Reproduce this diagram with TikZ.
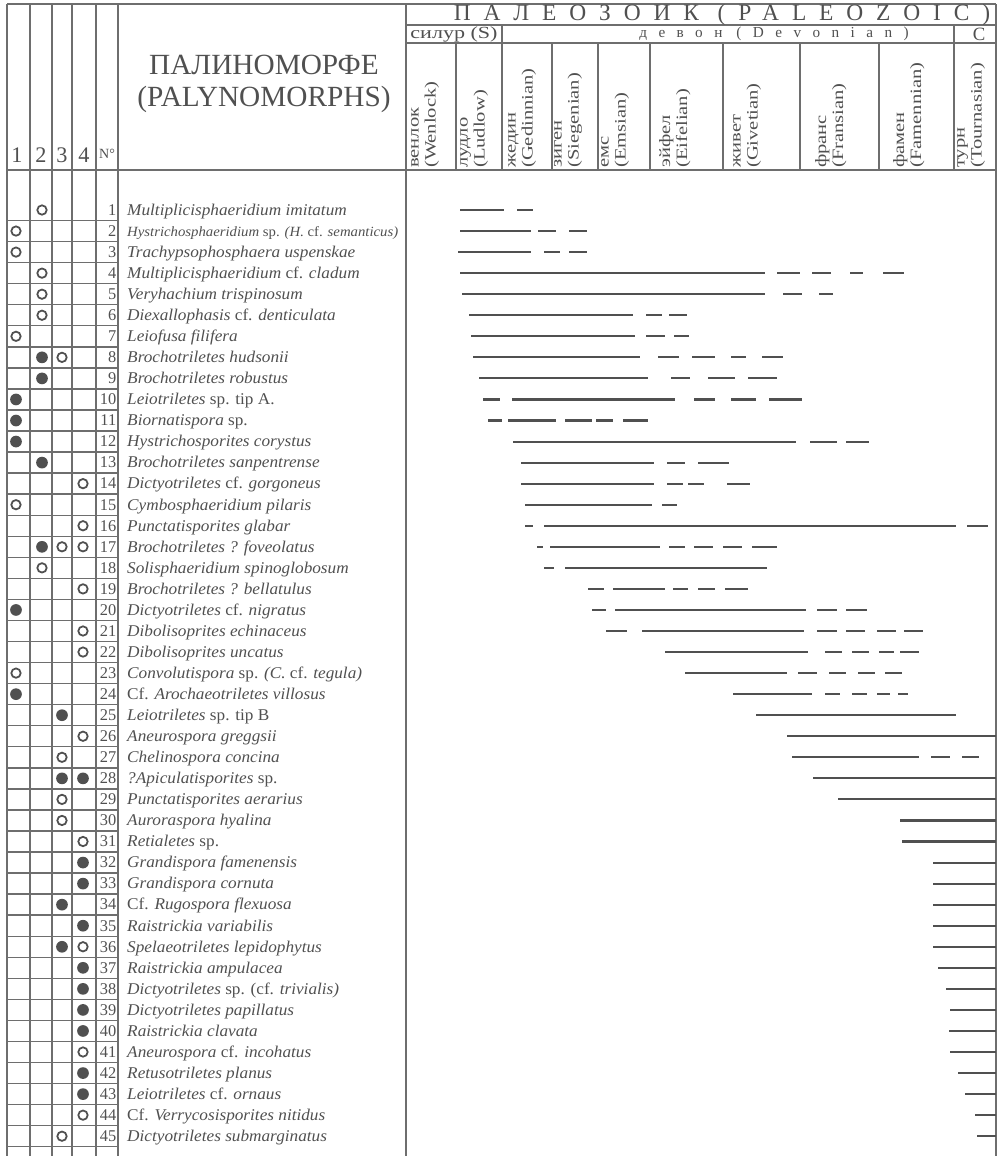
\documentclass[tikz,border=0pt]{standalone}
\usepackage{fontspec}
\setmainfont{Liberation Serif}
\newfontfamily\taxonfont[FakeStretch=1.05]{Liberation Serif}
\newfontfamily\stagefont[FakeStretch=1.3]{Liberation Serif}
\newfontfamily\widefont[FakeStretch=1.3]{Liberation Serif}
\newfontfamily\eraspaced[LetterSpace=55]{Liberation Serif}
\newfontfamily\devonspaced[LetterSpace=75]{Liberation Serif}
\definecolor{inkgray}{RGB}{80,80,80}
\definecolor{rulegray}{RGB}{110,110,110}
\usetikzlibrary{positioning}
\newcommand{\rmsp}[1]{\textup{#1}}

\begin{document}
\begin{tikzpicture}[x=0.3mm, y=-0.3mm,
    rule/.style={rulegray, line width=1.2pt},
    rangebar/.style={inkgray, line width=1.8pt},
    openmark/.style={circle, draw=inkgray, line width=1.5pt, inner sep=0pt, minimum size=8pt},
    fullmark/.style={circle, fill=inkgray, inner sep=0pt, minimum size=10pt},
    num/.style={anchor=base east, inner sep=0pt, text=inkgray, font=\fontsize{14}{16}\selectfont},
    taxon/.style={anchor=base west, inner sep=0pt, text=inkgray, font=\taxonfont\fontsize{14}{16}\selectfont\itshape},
    stage/.style={rotate=90, anchor=north west, inner sep=0pt, align=left, text=inkgray, font=\stagefont\fontsize{13.5}{14.5}\selectfont},
    colhead/.style={inner sep=0pt, text=inkgray, font=\fontsize{19}{20}\selectfont}]
    \useasboundingbox (0,0) rectangle (1002,1156);

    % frame and grid
    \draw[rule] (7,4) -- (996,4);
    \draw[rule] (406,25) -- (996,25);
    \draw[rule] (406,43) -- (996,43);
    \draw[rule] (7,170) -- (996,170);
    \foreach \x in {7,30,52,72,96,118,406,996}
        \draw[rule] (\x,4) -- (\x,1156);
    \foreach \x in {456,552,598,650,723,800,879}
        \draw[rule] (\x,43) -- (\x,170);
    \foreach \x in {502,954}
        \draw[rule] (\x,25) -- (\x,170);
    \foreach \n [evaluate=\n as \ly using {220.5+(\n-1)*21.05}] in {1,...,45}
        \draw[rule] (7,\ly) -- (118,\ly);

    % header
    \node[colhead] (c1) at (17,155) {1};
    \node[colhead] (c2) at (41,155) {2};
    \node[colhead] (c3) at (62,155) {3};
    \node[colhead] (c4) at (84,155) {4};
    \node[colhead, font=\fontsize{12}{13}\selectfont] (cnum) at (107,154) {N°};
    \node[text=inkgray, font=\fontsize{25}{27}\selectfont, align=center] (palyno) at (264,84)
        {ПАЛИНОМОРФЕ\\(PALYNOMORPHS)};
    \node[text=inkgray, font=\eraspaced\fontsize{20}{21}\selectfont] (era) at (722,15) {ПАЛЕОЗОИК (PALEOZOIC)};
    \node[text=inkgray, font=\widefont\fontsize{14.5}{15}\selectfont] (silur) at (454,34) {силур (S)};
    \node[text=inkgray, font=\devonspaced\fontsize{13}{14}\selectfont] (devon) at (774,34) {девон\hspace{12pt}(Devonian)};
    \node[text=inkgray, font=\fontsize{16}{17}\selectfont] (carbon) at (979,34) {C};

    \node[stage] (wenlock) at (411,168) {венлок\\(Wenlock)};
    \node[stage] (ludlow) at (460,168) {лудло\\(Ludlow)};
    \node[stage] (gedinn) at (508,168) {жедин\\(Gedinnian)};
    \node[stage] (siegen) at (554,168) {зиген\\(Siegenian)};
    \node[stage] (emsian) at (601,168) {емс\\(Emsian)};
    \node[stage] (eifel) at (659,168) {эйфел\\(Eifelian)};
    \node[stage] (givet) at (733,168) {живет\\(Givetian)};
    \node[stage] (frasn) at (815,168) {франс\\(Fransian)};
    \node[stage] (famen) at (893,168) {фамен\\(Famennian)};
    \node[stage] (tourn) at (957,168) {турн\\(Tournasian)};

    % numbers and taxa
    \foreach \n/\t [evaluate=\n as \ry using {215.3+(\n-1)*21.05}] in {
        1/Multiplicisphaeridium imitatum,
        2/{\fontsize{12}{14}\selectfont Hystrichosphaeridium \rmsp{sp.} (H. \rmsp{cf.} semanticus)},
        3/Trachypsophosphaera uspenskae,
        4/Multiplicisphaeridium \rmsp{cf.} cladum,
        5/Veryhachium trispinosum,
        6/Diexallophasis \rmsp{cf.} denticulata,
        7/Leiofusa filifera,
        8/Brochotriletes hudsonii,
        9/Brochotriletes robustus,
        10/Leiotriletes \rmsp{sp. tip A.},
        11/Biornatispora \rmsp{sp.},
        12/Hystrichosporites corystus,
        13/Brochotriletes sanpentrense,
        14/Dictyotriletes \rmsp{cf.} gorgoneus,
        15/Cymbosphaeridium pilaris,
        16/Punctatisporites glabar,
        17/Brochotriletes ? foveolatus,
        18/Solisphaeridium spinoglobosum,
        19/Brochotriletes ? bellatulus,
        20/Dictyotriletes \rmsp{cf.} nigratus,
        21/Dibolisoprites echinaceus,
        22/Dibolisoprites uncatus,
        23/Convolutispora \rmsp{sp.} (C. \rmsp{cf.} tegula),
        24/\rmsp{Cf.} Arochaeotriletes villosus,
        25/Leiotriletes \rmsp{sp. tip B},
        26/Aneurospora greggsii,
        27/Chelinospora concina,
        28/?Apiculatisporites \rmsp{sp.},
        29/Punctatisporites aerarius,
        30/Auroraspora hyalina,
        31/Retialetes \rmsp{sp.},
        32/Grandispora famenensis,
        33/Grandispora cornuta,
        34/\rmsp{Cf.} Rugospora flexuosa,
        35/Raistrickia variabilis,
        36/Spelaeotriletes lepidophytus,
        37/Raistrickia ampulacea,
        38/Dictyotriletes \rmsp{sp. (cf.} trivialis),
        39/Dictyotriletes papillatus,
        40/Raistrickia clavata,
        41/Aneurospora \rmsp{cf.} incohatus,
        42/Retusotriletes planus,
        43/Leiotriletes \rmsp{cf.} ornaus,
        44/\rmsp{Cf.} Verrycosisporites nitidus,
        45/Dictyotriletes submarginatus} {
        \node[num] (num\n) at (116.5,\ry) {\n};
        \node[taxon] (taxon\n) at (127,\ry) {\t};
    }

    % occurrence marks: open and filled
    \foreach \n/\c [evaluate=\n as \ry using {210+(\n-1)*21.05},
                    evaluate=\c as \cx using {{16,42,62,83}[\c-1]}] in
        {1/2,2/1,3/1,4/2,5/2,6/2,7/1,8/3,14/4,15/1,16/4,17/3,17/4,18/2,19/4,21/4,
         22/4,23/1,26/4,27/3,29/3,30/3,31/4,36/4,41/4,44/4,45/3}
        \node[openmark] (open\n-\c) at (\cx,\ry) {};
    \foreach \n/\c [evaluate=\n as \ry using {210+(\n-1)*21.05},
                    evaluate=\c as \cx using {{16,42,62,83}[\c-1]}] in
        {8/2,9/2,10/1,11/1,12/1,13/2,17/2,20/1,24/1,25/3,28/3,28/4,32/4,33/4,34/3,
         35/4,36/3,37/4,38/4,39/4,40/4,42/4,43/4}
        \node[fullmark] (full\n-\c) at (\cx,\ry) {};

    % stratigraphic ranges
    \foreach \n/\segs [evaluate=\n as \ry using {210+(\n-1)*21.05}] in {
        1/{460/504,517/533},
        2/{460/531,538/556,569/587},
        3/{458/531,544/560,569/587},
        4/{460/765,777/800,812/831,850/863,883/904},
        5/{462/765,783/802,819/833},
        6/{469/633,646/662,669/687},
        7/{471/635,646/665,674/689},
        8/{473/640,658/679,692/715,731/746,762/783},
        9/{479/648,671/690,708/735,748/777},
        10/{483/500,512/675,694/715,731/756,769/802},
        11/{488/502,508/556,565/592,596/613,623/648},
        12/{513/796,810/837,846/869},
        13/{521/654,667/685,698/729},
        14/{521/654,667/683,688/704,727/750},
        15/{525/652,662/677},
        16/{525/533,544/956,967/988},
        17/{537/543,550/660,669/685,694/713,723/742,752/777},
        18/{544/554,565/767},
        19/{588/604,613/665,673/688,698/715,725/748},
        20/{592/606,615/806,817/837,846/867},
        21/{606/627,642/804,817/837,846/865,877/896,904/923},
        22/{665/808,825/842,852/869,879/894,900/919},
        23/{685/787,798/817,829/846,858/875,885/902},
        24/{733/812,825/840,852/867,877/890,898/908},
        25/{756/956},
        26/{787/996},
        27/{792/919,931/950,962/979},
        28/{813/996},
        29/{838/996},
        30/{900/996},
        31/{902/996},
        32/{933/996},
        33/{933/996},
        34/{933/996},
        35/{933/996},
        36/{933/996},
        37/{938/996},
        38/{946/996},
        39/{950/996},
        40/{949/996},
        41/{950/996},
        42/{958/996},
        43/{965/996},
        44/{975/996},
        45/{977/996}} {
        \foreach \a/\b in \segs
            \draw[rangebar] (\a,\ry) -- (\b,\ry);
    }
\end{tikzpicture}
\end{document}
